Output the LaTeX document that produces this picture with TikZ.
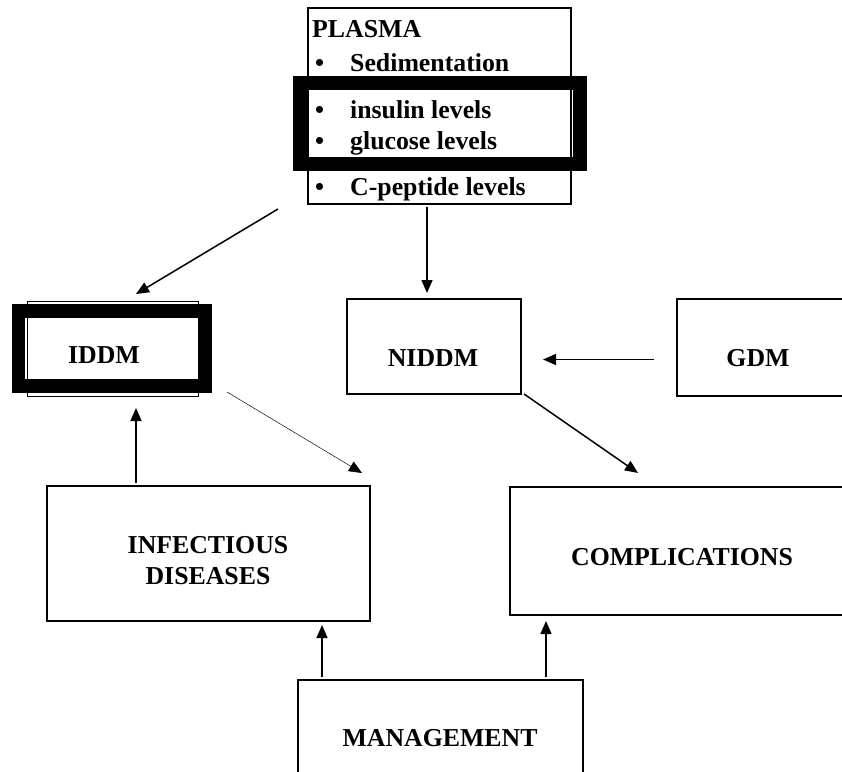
\documentclass[tikz,border=0pt]{standalone}
\usepackage{fontspec}
\setmainfont{Liberation Serif}
\usetikzlibrary{arrows.meta}

\begin{document}
\begin{tikzpicture}[x=1pt,y=-1pt,
  box/.style={draw,line width=1.6pt,inner sep=0pt,outer sep=0pt},
  markbox/.style={draw,line width=13.5pt,inner sep=0pt,outer sep=0pt},
  lbl/.style={font=\fontsize{25.8}{31}\selectfont\bfseries,inner sep=0pt,align=center},
  arr/.style={line width=1.5pt,-{Triangle[length=13pt,width=11pt]}},
  thinarr/.style={line width=0.5pt,-{Triangle[length=13pt,width=11pt]}}]
 \useasboundingbox (0,0) rectangle (842,771);
 \clip (0,0) rectangle (842,771);
 \node[box,minimum width=263pt,minimum height=196pt] (plasma) at (439.5,106) {};
 \node[lbl,anchor=base west] (plasmalbl) at (312,37) {PLASMA};
 \foreach \yy/\tt [count=\i] in {71/Sedimentation,118/insulin levels,149/glucose levels,195/C-peptide levels}
   \node[lbl,anchor=base west] (item\i) at (315,\yy) {\makebox[35pt][l]{\textbullet}\tt};
 \node[markbox,minimum width=280pt,minimum height=81pt] (plasmamark) at (440,123.5) {};
 \node[box,line width=1pt,minimum width=171pt,minimum height=95pt] (iddm) at (112.5,348.5) {};
 \node[markbox,minimum width=187pt,minimum height=75pt] (iddmmark) at (112,348.5) {};
 \node[lbl] (iddmlbl) at (104,355) {IDDM};
 \node[box,minimum width=174pt,minimum height=95pt] (niddm) at (434,346.5) {};
 \node[lbl] (niddmlbl) at (433,358) {NIDDM};
 \node[box,minimum width=183pt,minimum height=97pt] (gdm) at (768.5,347.5) {};
 \node[lbl] (gdmlbl) at (758,358) {GDM};
 \node[box,minimum width=323pt,minimum height=135pt] (infect) at (208.5,553.5) {};
 \node[lbl] (infectlbl) at (208,560.5) {INFECTIOUS\\DISEASES};
 \node[box,minimum width=350pt,minimum height=128pt] (compl) at (685,551) {};
 \node[lbl] (compllbl) at (682,557) {COMPLICATIONS};
 \node[box,minimum width=285pt,minimum height=120pt] (mgmt) at (440.5,740) {};
 \node[lbl] (mgmtlbl) at (440,738) {MANAGEMENT};
 \draw[arr] ([xshift=-30pt,yshift=-5pt]plasma.south west) -- ([xshift=23.5pt,yshift=7pt]iddm.north);
 \draw[arr,shorten <=3pt,shorten >=6pt] ([xshift=-7pt]niddm.north |- plasma.south) -- ([xshift=-7pt]niddm.north);
 \draw[arr,shorten <=23pt,shorten >=22pt] ([yshift=-12pt]gdm.west) -- ([yshift=-12pt]niddm.east |- gdm.west);
 \draw[arr] ([xshift=3pt]niddm.south east) -- ([xshift=128pt,yshift=14pt]compl.north west);
 \draw[thinarr] ([xshift=29pt,yshift=4pt]iddm.south east) -- ([xshift=-8pt,yshift=13pt]infect.north east);
 \draw[arr,shorten <=3pt,shorten >=12pt] ([xshift=-72.5pt]infect.north) -- ([xshift=-72.5pt]infect.north |- iddm.south);
 \draw[arr,shorten <=3pt,shorten >=4pt] ([xshift=24pt]mgmt.north west) -- ([xshift=24pt]mgmt.north west |- infect.south);
 \draw[arr,shorten <=3pt,shorten >=6pt] ([xshift=-37pt]mgmt.north east) -- ([xshift=-37pt]mgmt.north east |- compl.south);
\end{tikzpicture}
\end{document}
